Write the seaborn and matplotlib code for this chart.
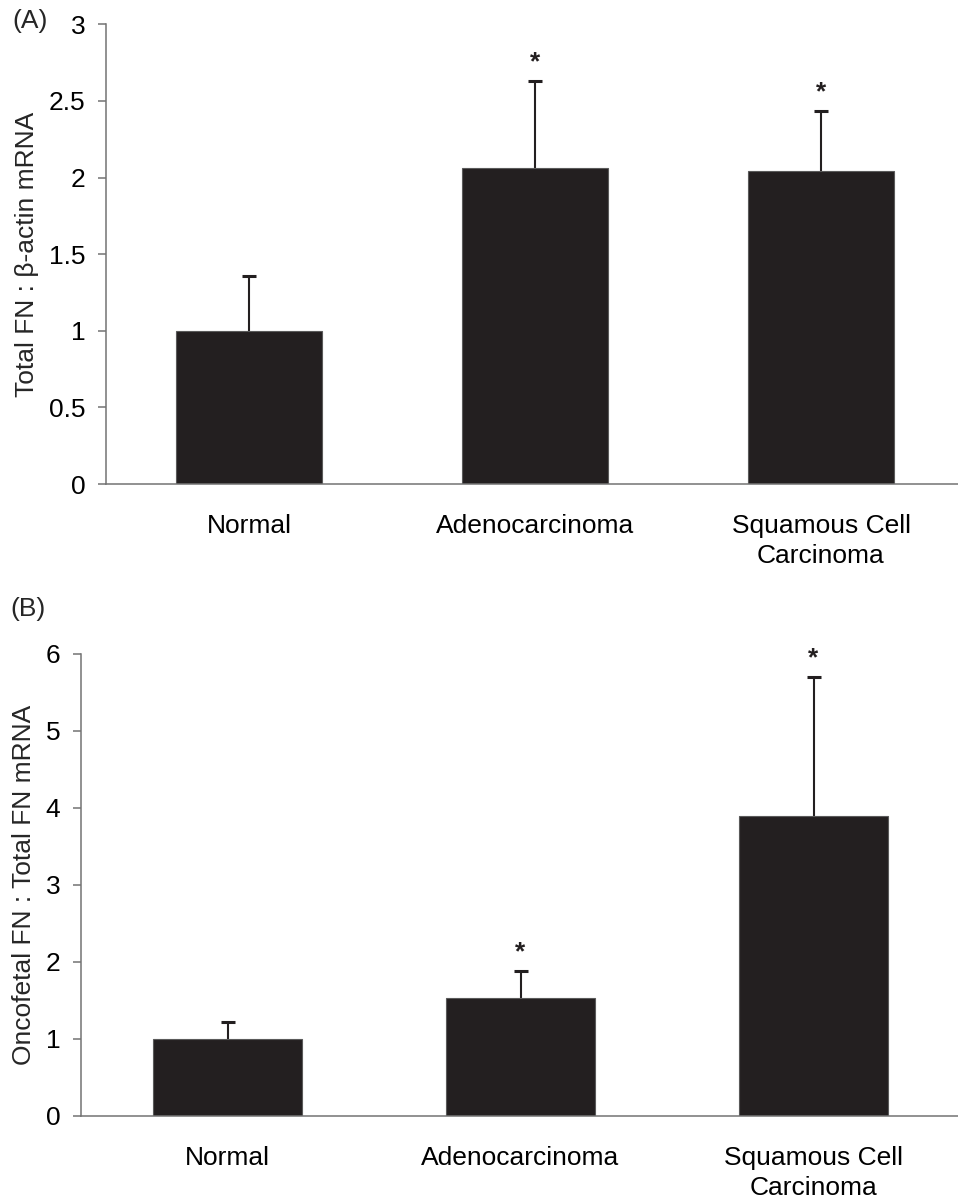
import matplotlib
matplotlib.use('Agg')
import matplotlib.pyplot as plt
from matplotlib.ticker import FuncFormatter
import seaborn as sns
import pandas as pd

# data
categories = ['Normal', 'Adenocarcinoma', 'Squamous Cell\nCarcinoma']
total_fn_mean = [1.0, 2.065, 2.043]
total_fn_err = [0.355, 0.565, 0.392]
onco_fn_mean = [1.0, 1.53, 3.90]
onco_fn_err = [0.22, 0.35, 1.80]
signif = ['', '*', '*']

sns.set_style('white')
plt.rcParams['font.family'] = ['Liberation Sans', 'DejaVu Sans']

bar_color = '#231f20'
axis_color = '#737373'

fig = plt.figure(figsize=(9.58, 12.04), dpi=100)
W, H = 958.0, 1204.0


def panel(rect_px, means, errs, ymax, ystep, ylabel, label_x):
    left, top, right, bottom = rect_px
    ax = fig.add_axes([left / W, 1 - bottom / H, (right - left) / W, (bottom - top) / H])
    df = pd.DataFrame({'group': categories, 'value': means})
    # error bars first, under the bars, so only the upper half shows
    ax.errorbar(range(len(means)), means, yerr=errs, fmt='none',
                ecolor=bar_color, elinewidth=1.5, capsize=4.7, capthick=2.2, zorder=1)
    sns.barplot(data=df, x='group', y='value', ax=ax, color=bar_color, saturation=1,
                width=0.51, errorbar=None, edgecolor='#5a5a5a', linewidth=0.8, zorder=2)
    for i, (m, e, s) in enumerate(zip(means, errs, signif)):
        if s:
            ax.annotate(s, (i, m + e), xytext=(0, 8.5), textcoords='offset points',
                        ha='center', va='baseline', fontsize=19, fontweight='bold',
                        color=bar_color)
    ax.set_xlim(-0.5, 2.5)
    ax.set_ylim(0, ymax)
    yt = [ystep * k for k in range(int(round(ymax / ystep)) + 1)]
    ax.set_yticks(yt)
    ax.yaxis.set_major_formatter(FuncFormatter(lambda v, p: '{:g}'.format(v)))
    ax.set_xticks(range(len(categories)))
    ax.set_xticklabels(categories, linespacing=1.32)
    ax.set_xticks([-0.5, 0.5, 1.5, 2.5], minor=True)
    ax.tick_params(axis='x', which='major', length=0, pad=21.5, labelsize=19, colors='black')
    ax.tick_params(axis='x', which='minor', length=5.8, width=1.1, direction='out',
                   color=axis_color)
    ax.tick_params(axis='y', which='major', length=5.8, width=1.1, direction='out',
                   color=axis_color, labelcolor='black', labelsize=19, pad=9, left=True)
    ax.set_xlabel('')
    ax.set_ylabel(ylabel, fontsize=19)
    ax.yaxis.set_label_coords(label_x, 0.5)
    sns.despine(ax=ax)
    for sp in ['left', 'bottom']:
        ax.spines[sp].set_color(axis_color)
        ax.spines[sp].set_linewidth(1.1)
    return ax


panel((106, 24.3, 964, 484), total_fn_mean, total_fn_err, 3, 0.5,
      'Total FN : \u03b2-actin mRNA', -0.078)
panel((81, 654, 960, 1115.7), onco_fn_mean, onco_fn_err, 6, 1,
      'Oncofetal FN : Total FN mRNA', -0.051)

fig.text(12 / W, 1 - 9 / H, '(A)', fontsize=19, va='top', ha='left')
fig.text(10 / W, 1 - 597 / H, '(B)', fontsize=19, va='top', ha='left')

plt.savefig('out.png', dpi=100)
